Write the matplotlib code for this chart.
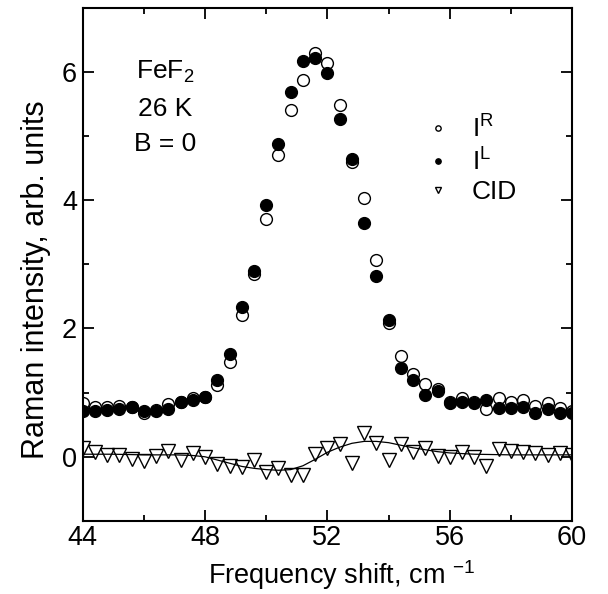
import matplotlib
matplotlib.use("Agg")
import matplotlib.pyplot as plt
from matplotlib.ticker import MultipleLocator

plt.rcParams['font.family'] = ['Liberation Sans', 'DejaVu Sans']
plt.rcParams['mathtext.fontset'] = 'custom'
plt.rcParams['mathtext.rm'] = 'Liberation Sans'
plt.rcParams['mathtext.it'] = 'Liberation Sans:italic'

# frequency shift, cm^-1
freq = [44.0, 44.4, 44.8, 45.2, 45.6, 46.0, 46.4, 46.8, 47.2, 47.6,
        48.0, 48.4, 48.8, 49.2, 49.6, 50.0, 50.4, 50.8, 51.2, 51.6,
        52.0, 52.4, 52.8, 53.2, 53.6, 54.0, 54.4, 54.8, 55.2, 55.6,
        56.0, 56.4, 56.8, 57.2, 57.6, 58.0, 58.4, 58.8, 59.2, 59.6, 60.0]

# I^R (open circles)
i_r = [0.84, 0.78, 0.78, 0.79, 0.78, 0.68, 0.73, 0.83, 0.85, 0.91,
       0.93, 1.12, 1.47, 2.21, 2.85, 3.70, 4.70, 5.40, 5.88, 6.30,
       6.14, 5.48, 4.60, 4.04, 3.07, 2.09, 1.57, 1.29, 1.14, 1.05,
       0.85, 0.91, 0.85, 0.74, 0.91, 0.86, 0.88, 0.79, 0.84, 0.76, 0.71]

# I^L (filled circles)
i_l = [0.71, 0.71, 0.73, 0.74, 0.78, 0.71, 0.72, 0.74, 0.85, 0.88,
       0.93, 1.19, 1.60, 2.34, 2.90, 3.92, 4.87, 5.69, 6.17, 6.21,
       5.98, 5.26, 4.64, 3.65, 2.82, 2.13, 1.38, 1.20, 0.97, 1.02,
       0.84, 0.85, 0.84, 0.88, 0.76, 0.76, 0.78, 0.69, 0.74, 0.69, 0.69]

# CID (triangles)
cid = [0.14, 0.08, 0.03, 0.03, -0.03, -0.07, 0.02, 0.09, -0.05, 0.06,
       0.00, -0.12, -0.14, -0.16, -0.05, -0.23, -0.18, -0.28, -0.28, 0.05,
       0.14, 0.20, -0.09, 0.37, 0.22, -0.05, 0.20, 0.08, 0.14, 0.02,
       0.00, 0.08, 0.00, -0.14, 0.12, 0.09, 0.07, 0.06, 0.03, 0.06, 0.03]

# fit curve through CID
fit_x = [44.0, 45.0, 46.0, 47.0, 47.6, 48.0, 48.4, 48.8, 49.2, 49.6,
         50.0, 50.4, 50.8, 51.2, 51.6, 52.0, 52.4, 52.8, 53.2, 53.6,
         54.0, 54.4, 54.8, 55.2, 55.6, 56.0, 56.8, 58.0, 60.0]
fit_y = [0.04, 0.04, 0.03, 0.03, 0.02, 0.00, -0.05, -0.10, -0.15, -0.18,
         -0.20, -0.21, -0.20, -0.14, -0.04, 0.07, 0.15, 0.21, 0.24, 0.24,
         0.22, 0.18, 0.14, 0.11, 0.08, 0.06, 0.04, 0.03, 0.03]

fig = plt.figure(figsize=(6.08, 5.94), dpi=100)
ax = fig.add_axes([0.136, 0.123, 0.805, 0.864])

ax.plot(fit_x, fit_y, color='black', lw=0.9)
ax.plot(freq, i_r, 'o', ms=8.5, mfc='white', mec='black', mew=1.0,
        label=r'$\mathrm{I}^{\mathrm{R}}$')
ax.plot(freq, i_l, 'o', ms=8.5, mfc='black', mec='black', mew=1.0,
        label=r'$\mathrm{I}^{\mathrm{L}}$')
ax.plot(freq, cid, 'v', ms=9.5, mfc='none', mec='black', mew=1.0,
        label='CID')

ax.set_xlim(44, 60)
ax.set_ylim(-1, 7)
ax.xaxis.set_major_locator(MultipleLocator(4))
ax.xaxis.set_minor_locator(MultipleLocator(2))
ax.yaxis.set_major_locator(MultipleLocator(2))
ax.yaxis.set_minor_locator(MultipleLocator(1))
ax.tick_params(which='both', direction='in', top=True, right=True, width=1.3)
ax.tick_params(which='major', length=8, labelsize=19.5, pad=4)
ax.tick_params(which='minor', length=4.5)
ax.tick_params(axis='x', which='major', pad=3)
for s in ax.spines.values():
    s.set_linewidth(1.5)

ax.set_xlabel(r'Frequency shift, cm $^{-1}$', fontsize=19.5, labelpad=5)
ax.xaxis.label.set_x(0.53)
ax.set_ylabel('Raman intensity, arb. units', fontsize=22, labelpad=8)
ax.yaxis.label.set_y(0.47)

ax.text(0.169, 0.874, r'FeF$_2$', transform=ax.transAxes, fontsize=19,
        ha='center', va='center')
ax.text(0.169, 0.802, '26 K', transform=ax.transAxes, fontsize=19,
        ha='center', va='center')
ax.text(0.169, 0.735, 'B = 0', transform=ax.transAxes, fontsize=19,
        ha='center', va='center')

ax.legend(loc='upper left', bbox_to_anchor=(0.698, 0.79), frameon=False,
          fontsize=19, markerscale=0.45, handlelength=1.0,
          handletextpad=0.8, labelspacing=0.2, borderpad=0,
          borderaxespad=0)

fig.savefig('out.png', dpi=100)
